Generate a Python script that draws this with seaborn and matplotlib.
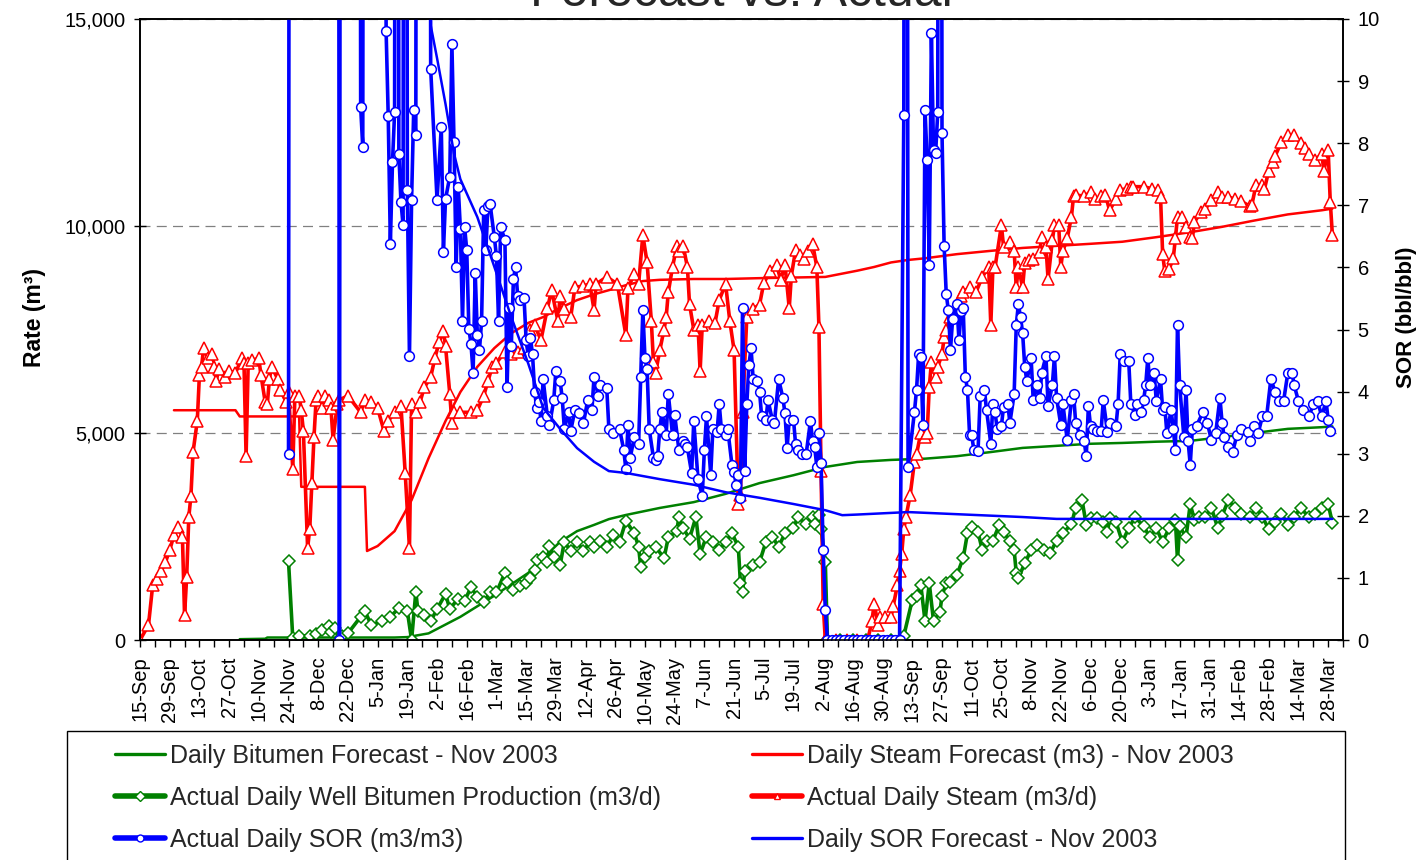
import pandas as pd
import matplotlib
matplotlib.use("Agg")
import matplotlib.pyplot as plt
import matplotlib.dates as mdates
from matplotlib.lines import Line2D
from matplotlib.patches import Rectangle
from matplotlib.ticker import FuncFormatter, MultipleLocator
import seaborn as sns

START = pd.Timestamp("2003-09-15")

# (days after 15-Sep-2003, value)
steam_actual = [(0, 0), (4, 360), (6, 1330), (8, 1470), (10, 1670), (12, 1880), (14, 2170), (16, 2530), (18, 2730), (20, 2480),
    (21, 600), (22, 1520), (23, 2970), (24, 3480), (25, 4540), (27, 5290), (28, 6400), (29, 6600), (30, 7050), (32, 6810),
    (34, 6900), (35, 6600), (36, 6250), (37, 6550), (40, 6350), (42, 6500), (45, 6450), (48, 6810), (49, 6700), (50, 4440),
    (51, 6700), (53, 6760), (56, 6800), (57, 6400), (59, 5750), (60, 5700), (61, 6300), (62, 6600), (65, 6300), (66, 6040),
    (69, 5750), (70, 6000), (72, 4130), (73, 5900), (75, 5900), (76, 5550), (77, 5050), (79, 2220), (80, 2680), (81, 3790),
    (82, 4900), (83, 5800), (84, 5900), (86, 5600), (87, 5900), (89, 5800), (90, 5600), (91, 4840), (93, 5700), (94, 5800),
    (98, 5900), (104, 5500), (106, 5800), (109, 5750), (112, 5600), (115, 5050), (117, 5290), (120, 5500), (123, 5650), (125, 4030),
    (127, 2220), (128, 5700), (130, 5500), (132, 5750), (134, 6100), (137, 6350), (139, 6810), (141, 7200), (143, 7460), (144, 7100),
    (146, 5950), (147, 5240), (148, 5500), (151, 5500), (156, 5500), (159, 5550), (162, 5900), (164, 6250), (166, 6600), (168, 6700),
    (172, 6950), (175, 6900), (178, 6950), (181, 7050), (184, 7500), (186, 7600), (189, 7250), (192, 8010), (194, 8450), (197, 7700),
    (198, 8300), (200, 8000), (203, 7800), (205, 8520), (209, 8550), (212, 8600), (214, 7970), (215, 8600), (220, 8770), (225, 8600),
    (229, 7360), (230, 8500), (233, 8850), (235, 8600), (237, 9780), (239, 9120), (241, 7700), (242, 6710), (243, 6450), (245, 7000),
    (247, 7500), (248, 7800), (249, 8400), (251, 9010), (253, 9520), (254, 9400), (256, 9520), (258, 9010), (259, 8110), (261, 7500),
    (263, 7600), (264, 6500), (265, 7600), (268, 7700), (271, 7650), (273, 8210), (276, 8600), (278, 7700), (280, 7000), (282, 3280),
    (283, 3500), (284, 5500), (286, 7800), (289, 8000), (292, 8100), (294, 8620), (297, 8910), (300, 9060), (302, 8700), (304, 9060),
    (306, 8020), (307, 8800), (309, 9420), (311, 9300), (313, 9200), (315, 9400), (317, 9570), (319, 9010), (320, 7560), (321, 4080),
    (322, 870), (323, 0), (328, 0), (333, 0), (338, 0), (343, 0), (345, 460), (346, 870), (348, 360), (349, 560),
    (351, 560), (354, 560), (355, 820), (357, 1330), (358, 1670), (359, 2080), (360, 2680), (361, 2970), (363, 3500), (365, 4300),
    (366, 4490), (368, 5000), (370, 4900), (371, 5000), (372, 6100), (373, 6710), (375, 6350), (376, 6600), (378, 6900), (379, 7310),
    (380, 7500), (382, 7800), (385, 7800), (387, 8310), (388, 8400), (391, 8520), (394, 8400), (397, 8770), (400, 9010), (401, 7610),
    (402, 9000), (403, 9000), (406, 10020), (407, 9500), (410, 9620), (412, 9400), (413, 8520), (414, 9000), (416, 8520), (417, 9100),
    (419, 9170), (421, 9200), (424, 9370), (425, 9730), (427, 9500), (428, 8720), (430, 9650), (431, 10020), (433, 10020), (434, 9010),
    (435, 9400), (437, 9700), (439, 10220), (440, 10720), (441, 10750), (445, 10720), (448, 10820), (450, 10650), (453, 10720), (455, 10750),
    (457, 10380), (460, 10650), (462, 10870), (465, 10900), (467, 10950), (468, 10950), (473, 10950), (477, 10900), (480, 10870), (481, 10700),
    (482, 9320), (483, 8910), (485, 8950), (487, 9220), (488, 9700), (489, 10220), (491, 10220), (493, 9980), (495, 9730), (496, 9700),
    (497, 10100), (500, 10330), (502, 10400), (505, 10630), (508, 10820), (510, 10700), (513, 10700), (516, 10650), (519, 10600), (523, 10480),
    (524, 10500), (526, 10990), (529, 11000), (530, 10900), (532, 11330), (534, 11540), (535, 11690), (538, 12030), (541, 12190), (544, 12190),
    (547, 12000), (549, 11880), (551, 11740), (554, 11600), (557, 11740), (558, 11330), (560, 11840), (561, 10580), (562, 9780)]

steam_forecast = [(16, 5550), (45, 5550), (47, 5400), (75, 5400), (76, 3700), (106, 3700), (107, 2150), (112, 2270), (120, 2630),
    (128, 3380), (136, 4390), (144, 5290), (151, 5990), (159, 6600), (167, 7050), (175, 7410), (183, 7660), (190, 7800), (198, 8020),
    (206, 8210), (214, 8350), (221, 8450), (229, 8570), (237, 8670), (245, 8700), (261, 8720), (276, 8720), (292, 8740), (323, 8770),
    (331, 8850), (338, 8920), (346, 9010), (354, 9120), (362, 9180), (370, 9220), (385, 9320), (401, 9400), (416, 9470), (432, 9520),
    (448, 9570), (463, 9620), (479, 9730), (495, 9850), (510, 9980), (525, 10130), (541, 10280), (557, 10380), (562, 10420)]

bitumen_actual = [(70, 1900), (72, 50), (75, 100), (80, 100), (83, 150), (86, 250), (89, 350), (90, 200), (92, 300), (94, 0),
    (95, 100), (98, 160), (104, 560), (106, 700), (109, 360), (114, 450), (118, 560), (122, 770), (126, 700), (128, 0),
    (130, 1160), (131, 700), (134, 610), (137, 450), (140, 750), (144, 1110), (146, 750), (150, 1000), (153, 950), (156, 1270),
    (159, 1050), (162, 920), (165, 1150), (168, 1150), (172, 1620), (173, 1400), (176, 1200), (179, 1300), (182, 1370), (184, 1500),
    (186, 1700), (187, 1930), (190, 2000), (192, 1880), (193, 2270), (195, 2000), (198, 1810), (200, 2370), (203, 2150), (206, 2370),
    (209, 2150), (212, 2370), (214, 2250), (217, 2400), (220, 2250), (223, 2530), (226, 2370), (229, 2870), (233, 2580), (235, 2250),
    (236, 1770), (238, 2000), (240, 2150), (243, 2250), (247, 1980), (249, 2480), (253, 2630), (254, 2970), (256, 2700), (259, 2450),
    (262, 2970), (264, 2080), (267, 2500), (270, 2370), (273, 2170), (276, 2370), (279, 2580), (282, 2250), (283, 1370), (284, 1160),
    (285, 1670), (289, 1800), (292, 1880), (295, 2370), (298, 2500), (301, 2250), (304, 2580), (308, 2700), (310, 2970), (314, 2800),
    (317, 2970), (318, 2800), (320, 3020), (321, 2680), (323, 1880), (324, 0), (330, 0), (336, 0), (342, 0), (348, 0),
    (354, 0), (358, 0), (360, 100), (364, 970), (366, 1070), (368, 1330), (370, 460), (372, 1370), (374, 460), (377, 670),
    (378, 1070), (380, 1370), (382, 1400), (385, 1570), (388, 1980), (390, 2580), (392, 2730), (395, 2600), (397, 2170), (399, 2400),
    (402, 2400), (405, 2780), (407, 2600), (410, 2400), (412, 2170), (413, 1620), (414, 1500), (417, 1850), (420, 2170), (423, 2300),
    (426, 2170), (429, 2100), (432, 2400), (435, 2580), (439, 2800), (441, 3190), (444, 3380), (446, 2780), (448, 2950), (451, 2950),
    (454, 2850), (456, 2600), (457, 2950), (460, 2850), (463, 2370), (466, 2700), (469, 2970), (473, 2750), (476, 2480), (479, 2700),
    (482, 2370), (485, 2700), (488, 2900), (489, 1930), (490, 2750), (493, 2480), (495, 3280), (497, 2900), (499, 2970), (502, 2970),
    (505, 3190), (508, 2700), (510, 3000), (513, 3380), (516, 3190), (519, 3050), (523, 2970), (526, 3190), (529, 2970), (532, 2680),
    (535, 2850), (538, 3050), (541, 2780), (544, 2970), (547, 3190), (551, 2970), (554, 3050), (557, 3190), (560, 3280), (562, 2830)]

bitumen_forecast = [(47, 20), (59, 30), (60, 60), (120, 60), (126, 70), (136, 160), (151, 560), (167, 1070), (183, 1620),
    (190, 1980), (198, 2370), (206, 2630), (214, 2780), (221, 2920), (229, 3020), (245, 3190), (261, 3330), (276, 3530), (292, 3790),
    (308, 3980), (323, 4180), (338, 4300), (354, 4350), (370, 4380), (385, 4440), (401, 4540), (416, 4640), (432, 4690), (448, 4740),
    (463, 4760), (479, 4790), (495, 4810), (510, 4900), (525, 5000), (541, 5100), (557, 5140), (562, 5160)]

# SOR (bbl/bbl); 40 marks the off-scale spikes
sor_actual = [(70, 3.0), (71, 40), (93, 40), (94, 0), (95, 40), (103, 40), (104, 8.58), (105, 7.94), (106, 40), (115, 40),
    (116, 9.8), (117, 8.43), (118, 6.38), (119, 7.69), (120, 8.5), (121, 40), (122, 7.83), (123, 7.05), (124, 6.68), (125, 40),
    (126, 7.25), (127, 4.57), (128, 7.09), (129, 8.53), (130, 8.13), (131, 40), (136, 40), (137, 9.2), (140, 7.09), (142, 8.26),
    (143, 6.25), (144, 7.1), (146, 7.46), (147, 9.6), (148, 8.02), (149, 6.01), (150, 7.29), (151, 6.62), (152, 5.14), (153, 6.65),
    (154, 6.28), (155, 5.01), (156, 4.77), (157, 4.3), (158, 5.91), (159, 4.91), (160, 4.67), (161, 5.14), (162, 6.92), (163, 6.28),
    (164, 6.99), (165, 7.02), (167, 6.49), (168, 6.18), (169, 5.14), (170, 6.65), (172, 6.44), (173, 4.07), (174, 5.35), (175, 4.73),
    (176, 5.81), (177, 6.01), (178, 5.54), (179, 5.48), (181, 5.51), (182, 4.83), (183, 4.57), (184, 4.87), (185, 4.6), (186, 4.0),
    (187, 3.73), (188, 3.83), (189, 3.53), (190, 4.2), (192, 3.6), (193, 3.46), (195, 3.86), (196, 4.33), (198, 4.17), (199, 3.9),
    (200, 3.4), (202, 3.67), (203, 3.37), (205, 3.7), (207, 3.65), (209, 3.49), (211, 3.86), (213, 3.7), (214, 4.24), (216, 3.93),
    (217, 4.1), (220, 4.05), (221, 3.4), (223, 3.33), (226, 3.4), (228, 3.06), (229, 2.75), (230, 3.46), (231, 2.93), (233, 3.27),
    (235, 3.16), (236, 4.24), (237, 5.31), (238, 4.54), (239, 4.36), (240, 3.4), (242, 2.93), (243, 2.9), (244, 2.96), (245, 3.4),
    (246, 3.67), (248, 3.3), (249, 3.96), (251, 3.3), (252, 3.63), (254, 3.06), (256, 3.2), (257, 3.15), (258, 3.1), (260, 2.69),
    (261, 3.53), (263, 2.59), (265, 2.32), (266, 3.06), (267, 3.6), (269, 2.66), (270, 3.4), (272, 3.35), (273, 3.8), (274, 3.4),
    (276, 3.3), (277, 3.4), (279, 2.82), (280, 2.7), (281, 2.5), (282, 2.65), (283, 2.29), (284, 5.35), (285, 2.72), (286, 3.8),
    (287, 4.43), (288, 4.7), (289, 4.2), (291, 4.17), (292, 4.0), (293, 3.6), (295, 3.55), (296, 3.86), (298, 3.55), (299, 3.5),
    (301, 4.2), (303, 3.9), (304, 3.65), (305, 3.09), (306, 3.55), (308, 3.55), (309, 3.15), (310, 3.06), (312, 3.0), (314, 3.0),
    (316, 3.53), (317, 3.2), (318, 3.1), (319, 2.79), (320, 3.33), (321, 2.85), (322, 1.45), (323, 0.48), (324, 0), (326, 0),
    (328, 0), (330, 0), (332, 0), (334, 0), (336, 0), (338, 0), (340, 0), (342, 0), (344, 0), (346, 0),
    (348, 0), (350, 0), (352, 0), (354, 0), (356, 0), (358, 0), (360, 8.46), (361, 40), (362, 2.79), (365, 3.67),
    (366, 4.03), (367, 4.6), (368, 4.55), (369, 3.46), (370, 8.53), (371, 7.73), (372, 6.04), (373, 9.77), (374, 7.89), (375, 7.85),
    (376, 8.5), (377, 40), (378, 8.16), (379, 6.35), (380, 5.57), (381, 5.31), (382, 4.67), (383, 5.17), (385, 5.41), (386, 4.83),
    (387, 5.3), (388, 5.35), (389, 4.24), (390, 4.03), (391, 3.3), (392, 3.3), (393, 3.06), (395, 3.05), (396, 3.93), (398, 4.03),
    (399, 3.7), (401, 3.16), (402, 3.8), (403, 3.67), (404, 3.4), (406, 3.45), (407, 3.75), (409, 3.8), (410, 3.5), (412, 3.96),
    (413, 5.07), (414, 5.41), (415, 5.2), (416, 4.94), (417, 4.4), (418, 4.17), (420, 4.54), (421, 3.86), (423, 4.1), (424, 3.9),
    (425, 4.3), (427, 4.57), (428, 3.77), (430, 4.1), (431, 4.57), (432, 3.9), (434, 3.46), (435, 3.8), (437, 3.22), (439, 3.86),
    (440, 3.96), (441, 3.5), (443, 3.3), (445, 3.2), (446, 2.96), (447, 3.77), (448, 3.45), (449, 3.4), (451, 3.37), (453, 3.37),
    (454, 3.86), (456, 3.35), (457, 3.5), (460, 3.45), (461, 3.8), (462, 4.6), (464, 4.5), (466, 4.5), (467, 3.8), (469, 3.63),
    (470, 3.8), (472, 3.67), (473, 3.86), (474, 4.1), (475, 4.54), (476, 4.1), (478, 4.3), (479, 3.85), (481, 4.2), (482, 3.7),
    (483, 3.75), (484, 3.33), (486, 3.7), (487, 3.4), (488, 3.06), (489, 5.07), (490, 4.1), (492, 3.27), (493, 4.03), (494, 3.2),
    (495, 2.82), (496, 3.4), (498, 3.45), (501, 3.67), (503, 3.5), (505, 3.22), (507, 3.33), (509, 3.9), (510, 3.5), (511, 3.27),
    (513, 3.1), (515, 3.03), (517, 3.3), (519, 3.4), (522, 3.35), (523, 3.2), (525, 3.45), (527, 3.33), (529, 3.6), (531, 3.6),
    (533, 4.2), (535, 4.0), (537, 3.85), (539, 3.85), (541, 4.3), (543, 4.3), (544, 4.1), (546, 3.85), (548, 3.7), (551, 3.6),
    (553, 3.8), (555, 3.85), (557, 3.6), (559, 3.85), (560, 3.55), (561, 3.37)]

sor_forecast = [(136, 10.3), (137, 9.9), (140, 9.37), (144, 8.63), (148, 7.83), (151, 7.42), (159, 6.81), (167, 6.01), (175, 5.2),
    (183, 4.45), (190, 3.74), (198, 3.4), (206, 3.09), (214, 2.87), (221, 2.72), (229, 2.69), (245, 2.59), (261, 2.5), (276, 2.38),
    (292, 2.29), (308, 2.19), (323, 2.09), (331, 2.01), (338, 2.02), (362, 2.06), (416, 1.98), (432, 1.95), (562, 1.95)]

labels = ["Daily Bitumen Forecast - Nov 2003", "Actual Daily Well Bitumen Production (m3/d)", "Actual Daily SOR (m3/m3)",
          "Daily Steam Forecast (m3) - Nov 2003", "Actual Daily Steam (m3/d)", "Daily SOR Forecast - Nov 2003"]

GREEN, RED, BLUE = "#008000", "#FF0000", "#0000FF"


def split(points):
    days, vals = zip(*points)
    return START + pd.to_timedelta(list(days), unit="D"), list(vals)


sns.set_theme(style="white")
plt.rcParams["font.family"] = ["Liberation Sans", "DejaVu Sans"]

fig = plt.figure(figsize=(14.18, 8.6), dpi=100)
ax = fig.add_axes([140 / 1418, 1 - 640 / 860, (1343 - 140) / 1418, (640 - 19) / 860])
ax2 = ax.twinx()

thin = dict(estimator=None, sort=False, linewidth=1.8)
thick = dict(estimator=None, sort=False, linewidth=2.6, markerfacecolor="white", markeredgewidth=1.1)

x, y = split(bitumen_forecast)
sns.lineplot(x=x, y=y, ax=ax, color=GREEN, **thin)
x, y = split(bitumen_actual)
sns.lineplot(x=x, y=y, ax=ax, color=GREEN, marker="D", markersize=6, markeredgecolor=GREEN, **thick)
x, y = split(steam_forecast)
sns.lineplot(x=x, y=y, ax=ax, color=RED, **thin)
x, y = split(steam_actual)
sns.lineplot(x=x, y=y, ax=ax, color=RED, marker="^", markersize=8, markeredgecolor=RED, **thick)
x, y = split(sor_actual)
sns.lineplot(x=x, y=y, ax=ax2, color=BLUE, marker="o", markersize=7, markeredgecolor=BLUE, **thick)
x, y = split(sor_forecast)
sns.lineplot(x=x, y=y, ax=ax2, color=BLUE, **thin)

ax.set_xlim(START, START + pd.Timedelta(days=562.8))
ax.set_ylim(0, 15000)
ax2.set_ylim(0, 10)
ax.yaxis.set_major_locator(MultipleLocator(5000))
ax.yaxis.set_major_formatter(FuncFormatter(lambda v, p: f"{v:,.0f}"))
ax2.yaxis.set_major_locator(MultipleLocator(1))

ax.set_xticks(pd.date_range(START, periods=41, freq="14D"))
ax.set_xticks(pd.date_range(START + pd.Timedelta(days=7), periods=41, freq="14D"), minor=True)
ax.xaxis.set_major_formatter(mdates.DateFormatter("%-d-%b"))

ax.grid(False)
ax2.grid(False)
ax.yaxis.grid(True, color="#808080", linestyle=(0, (8, 5)), linewidth=0.9)
ax.set_axisbelow(True)

for a in (ax, ax2):
    for s in a.spines.values():
        s.set_color("black")
        s.set_linewidth(1.2)

ax.tick_params(axis="x", which="both", bottom=True, direction="out", length=5, width=1, color="black",
               labelsize=14.5, pad=7, labelrotation=90, labelcolor="black")
ax.tick_params(axis="y", left=True, direction="inout", length=9, width=1, color="black",
               labelsize=14.5, pad=6, labelcolor="black")
ax2.tick_params(axis="y", right=True, direction="inout", length=9, width=1, color="black",
                labelsize=14.5, pad=6, labelcolor="black")

ax.set_xlabel("")
ax.set_ylabel("Rate (m³)", fontsize=16.5, fontweight="bold", color="black")
ax.yaxis.set_label_coords(-0.078, 0.52)
ax2.set_ylabel("SOR (bbl/bbl)", fontsize=16, fontweight="bold", color="black")
ax2.yaxis.set_label_coords(1.044, 0.52)

fig.text(741 / 1418, 1 - 6 / 860, "Forecast vs. Actual", ha="center", va="baseline", fontsize=36)

# legend: frame and two columns
fig.patches.append(Rectangle((67 / 1418, -0.02), (1345 - 67) / 1418, (877.2 - 731) / 860,
                             transform=fig.transFigure, fill=False, edgecolor="black", linewidth=1))
h_thin = dict(linewidth=2.4)
h_thick = dict(linewidth=4, markerfacecolor="white", markeredgewidth=1, markersize=5)
col1 = [Line2D([], [], color=GREEN, **h_thin),
        Line2D([], [], color=GREEN, marker="D", markeredgecolor=GREEN, **h_thick),
        Line2D([], [], color=BLUE, marker="o", markeredgecolor=BLUE, **h_thick)]
col2 = [Line2D([], [], color=RED, **h_thin),
        Line2D([], [], color=RED, marker="^", markeredgecolor=RED, **h_thick),
        Line2D([], [], color=BLUE, **h_thin)]
leg_kw = dict(loc="upper left", frameon=False, fontsize=18, handlelength=2.0, handletextpad=0.22,
              labelspacing=0.72, borderpad=0, borderaxespad=0)
fig.legend(col1, labels[:3], bbox_to_anchor=(115 / 1418, 1 - 744 / 860), **leg_kw)
fig.legend(col2, labels[3:], bbox_to_anchor=(752 / 1418, 1 - 744 / 860), **leg_kw)

fig.savefig("out.png", dpi=100)
